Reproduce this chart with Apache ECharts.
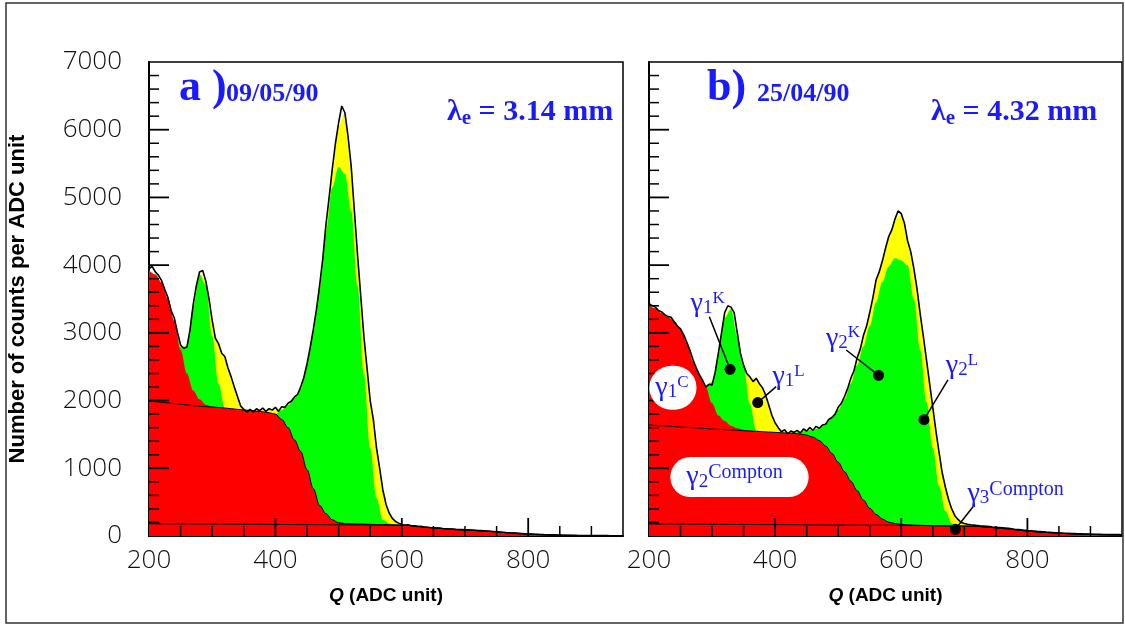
<!DOCTYPE html>
<html><head><meta charset="utf-8">
<script src="https://cdn.jsdelivr.net/npm/echarts@6/dist/echarts.min.js"></script>
<style>html,body{margin:0;padding:0;background:#fff}#c{width:1125px;height:625px}</style>
</head><body><div id="c"></div>
<script>
// ---------- axis / tick values ----------
const Q_START = 200;          // first bin (ADC units)
const FIT_STEP = 10;          // sampling of fitted components
const DATA_STEP = 5;          // sampling of measured histogram
const xTickLabels = [200, 400, 600, 800];
const yTickLabels = [0, 1000, 2000, 3000, 4000, 5000, 6000, 7000];

// ---------- panel a) 09/05/90 ----------
// top of yellow (total fit = Compton + K + L)
const aTotalFit = [
 3920,3860,3740,3500,3180,2800,2810,3400,3870,3780,
 3200,2850,2660,2330,2050,1880,1850,1850,1860,1860,
 1860,1880,1940,2040,2180,2550,3050,3700,4600,5400,
 6050,6250,5450,4150,2950,2000,1300,680,340,220,
 170,160,150,140,130,122,115,108,102,96,
 92,88,82,76,70,62,55,48,42,36,
 30,26,22,19,16,13,11,9,8,7,
 6,5,5,4,4,3];
// top of green (Compton + K lines)
const aGreenTop = [
 3920,3860,3740,3500,3180,2790,2800,3390,3860,3700,
 2950,2250,1895,1880,1870,1860,1855,1845,1835,1820,
 1800,1860,1930,2030,2170,2530,3020,3650,4500,5150,
 5450,5350,4800,3700,2400,1300,560,240,185,170,
 160,155,148,138,128,120,113,106,100,94,
 90,86,80,74,68,60,53,46,40,34,
 28,24,20,17,14,12,10,8,7,6,
 5,4,4,3,3,2];
// top of red (sum of Compton components)
const aComptonTop = [
 3920,3860,3740,3500,3180,2750,2400,2150,2020,1940,
 1910,1900,1890,1880,1870,1860,1855,1845,1835,1820,
 1800,1720,1600,1420,1250,980,700,450,330,240,
 195,185,180,178,175,172,170,168,165,163,
 160,155,148,138,128,120,113,106,100,94,
 90,86,80,74,68,60,53,46,40,34,
 28,24,20,17,14,12,10,8,7,6,
 5,4,4,3,3,2];
// gamma2 + gamma3 Compton curve
const aCompton23 = [
 1995,1985,1975,1965,1955,1945,1935,1925,1915,1910,
 1905,1898,1890,1880,1870,1860,1855,1845,1835,1820,
 1800,1720,1600,1420,1250,980,700,450,330,240,
 195,185,180,178,175,172,170,168,165,163,
 160,155,148,138,128,120,113,106,100,94,
 90,86,80,74,68,60,53,46,40,34,
 28,24,20,17,14,12,10,8,7,6,
 5,4,4,3,3,2];
// gamma3 Compton curve
const aCompton3 = [
 180,180,179,179,178,178,177,177,176,176,
 175,175,174,174,173,173,172,172,171,171,
 170,170,169,169,168,168,167,167,166,166,
 165,165,164,164,163,163,162,162,161,161,
 160,155,148,138,128,120,113,106,100,94,
 90,86,80,74,68,60,53,46,40,34,
 28,24,20,17,14,12,10,8,7,6,
 5,4,4,3,3,2];
// measured counts (5 ADC unit steps)
const aCounts = [
 3950,3980,3900,3850,3770,3640,3520,3330,3220,3010,
 2820,2770,2790,3050,3420,3700,3900,3920,3760,3500,
 3180,2920,2840,2700,2650,2480,2350,2200,2060,1920,
 1870,1830,1870,1830,1880,1850,1890,1840,1880,1860,
 1900,1840,1910,1900,1960,1990,2050,2090,2200,2340,
 2540,2780,3050,3350,3700,4100,4600,5000,5420,5800,
 6100,6350,6250,5900,5450,4800,4150,3550,2950,2480,
 2000,1720,1300,1000,680,470,340,260,215,190,
 170,160,165,150,150,140,142,132,130,125,
 122,118,116,110,108,104,102,98,96,94,
 92,90,88,85,82,79,76,73,70,66,
 62,58,55,51,48,45,42,39,36,33,
 30,28,26,24,22,20,19,17,16,14,
 13,12,11,10,9,9,8,8,7,7,
 6,6,5,5,5,5,4,4,4,3,
 3];

// ---------- panel b) 25/04/90 ----------
const bTotalFit = [
 3420,3370,3300,3240,3180,3060,2860,2600,2380,2230,
 2280,2700,3250,3380,3000,2550,2330,2320,2200,1920,
 1680,1560,1540,1540,1550,1560,1570,1600,1660,1760,
 1890,2060,2320,2630,2950,3290,3780,4060,4400,4680,
 4740,4380,3950,3300,2600,1900,1240,710,410,250,
 185,165,155,146,138,130,122,112,100,90,
 80,72,65,58,52,46,41,37,33,30,
 27,25,23,21,20,19];
const bGreenTop = [
 3400,3360,3290,3230,3170,3050,2850,2580,2370,2210,
 2270,2680,3220,3350,2950,2500,1950,1560,1540,1535,
 1530,1525,1520,1525,1540,1555,1565,1590,1650,1740,
 1860,2020,2250,2520,2800,3100,3450,3750,3980,4100,
 4070,4000,3500,2750,1980,1300,740,370,190,150,
 148,146,143,136,130,122,115,105,94,84,
 75,67,60,54,48,43,38,34,30,27,
 25,23,21,19,18,17];
const bComptonTop = [
 3400,3360,3290,3230,3170,3050,2850,2580,2370,2200,
 1960,1780,1700,1630,1590,1570,1555,1545,1540,1535,
 1530,1525,1520,1515,1505,1490,1460,1410,1330,1220,
 1090,950,810,670,530,410,320,250,205,185,
 170,165,160,157,155,153,151,150,149,148,
 147,145,142,135,128,120,113,103,92,82,
 73,65,58,52,46,41,36,32,29,26,
 24,22,20,18,17,16];
const bCompton23 = [
 1640,1634,1628,1622,1616,1610,1604,1598,1592,1586,
 1580,1575,1570,1565,1560,1555,1550,1545,1540,1535,
 1530,1525,1520,1515,1505,1490,1460,1410,1330,1220,
 1090,950,810,670,530,410,320,250,205,185,
 170,165,160,157,155,153,151,150,149,148,
 147,145,142,135,128,120,113,103,92,82,
 73,65,58,52,46,41,36,32,29,26,
 24,22,20,18,17,16];
const bCompton3 = [
 177,177,176,176,175,175,174,174,173,173,
 172,172,171,171,170,170,169,169,168,168,
 168,167,167,166,166,165,165,164,164,163,
 163,162,162,161,161,160,160,159,159,158,
 158,157,156,155,154,153,151,150,149,148,
 147,145,142,135,128,120,113,103,92,82,
 73,65,58,52,46,41,36,32,29,26,
 24,22,20,18,17,16];
const bCounts = [
 3430,3400,3380,3330,3310,3270,3240,3230,3160,3100,
 3060,2970,2860,2740,2600,2480,2380,2300,2200,2240,
 2230,2420,2700,3000,3300,3400,3380,3300,3000,2700,
 2520,2400,2350,2280,2330,2250,2190,2080,1930,1780,
 1670,1600,1540,1570,1510,1550,1530,1560,1520,1580,
 1550,1600,1560,1620,1590,1640,1650,1720,1750,1800,
 1900,1960,2060,2180,2330,2440,2630,2760,2960,3100,
 3300,3520,3780,3900,4060,4250,4420,4520,4680,4800,
 4760,4620,4360,4200,3950,3650,3280,2950,2600,2250,
 1900,1550,1230,930,720,540,400,300,245,200,
 185,172,165,160,155,150,146,142,138,133,
 130,126,122,118,112,106,100,95,90,85,
 80,76,72,68,65,62,58,55,52,49,
 46,44,41,39,37,35,33,32,30,29,
 27,26,25,24,23,22,21,21,20,20,
 19];

// ---------- panel b annotations (data coordinates) ----------
const bDots = [[328.5,2462],[372.4,1970],[564,2373],[636,1718],[685.7,99]];
const bLeaderStarts = [[295.7,3239],[401.6,2206],[512.7,2747],[674,2304],[716,458]];
const bLabelTexts = ['{g|γ}{s|1}{p|K}','{g|γ}{s|1}{p|L}','{g|γ}{s|2}{p|K}','{g|γ}{s|2}{p|L}','{g|γ}{s|3}{c|Compton}'];
const bLabelAt = [[266,3427],[395.8,2353],[480.5,2920],[670.7,2511],[705,630]];
const bPillTexts = ['{g|γ}{s|1}{p|C}','{g|γ}{s|2}{c|Compton}'];
const bPillAt = [[200.5,2190],[233.8,870]];

// ---------- build ----------
const BLUE = '#1a1aff';
const TICKFONT = "'Open Sans', Lato, Roboto, sans-serif";
const X_MIN = 200, X_MAX = 950, X_MAJOR = 200, X_MINOR = 50;
const Y_MIN = 0, Y_MAX = 7000, Y_MAJOR = 1000, Y_MINOR = 200;
function pairs(arr, step){ return arr.map((v,i)=>[Q_START + i*step, v]); }

// tick positions derived from the axis intervals
const xTickVals = [], yTickVals = [];
for (let v = X_MIN + X_MINOR; v < X_MAX; v += X_MINOR) xTickVals.push(v);
for (let v = Y_MIN + Y_MINOR; v < Y_MAX; v += Y_MINOR) yTickVals.push(v);

const chart = echarts.init(document.getElementById('c'), null, {renderer:'canvas'});

const grids = [
  {left:149, top:62, width:474, height:474},
  {left:649, top:62, width:473, height:474}
];

function xAxis(gi){
  return {gridIndex:gi, type:'value', min:X_MIN, max:X_MAX, interval:X_MAJOR, position:'bottom',
     axisLine:{show:true, onZero:false, lineStyle:{color:'#000', width:2}},
     axisTick:{show:false},
     axisLabel:{show:true, showMaxLabel:false, margin:12, fontSize:26, fontWeight:300, color:'#111', fontFamily:TICKFONT,
       formatter:v=> xTickLabels.includes(v) ? String(v) : ''},
     splitLine:{show:false},
     name:'{q|Q} (ADC unit)', nameLocation:'middle', nameGap:50,
     nameTextStyle:{fontFamily:'Liberation Sans, Arial', fontWeight:'bold', fontSize:19, color:'#000',
       rich:{q:{fontFamily:'Liberation Sans, Arial', fontWeight:'bold', fontStyle:'italic', fontSize:19, color:'#000'}}}};
}
function yAxis(gi, withLabels){
  return {gridIndex:gi, type:'value', min:Y_MIN, max:Y_MAX, interval:Y_MAJOR,
    axisLine:{show:true, onZero:false, lineStyle:{color:'#000', width:2}},
    axisTick:{show:false},
    splitLine:{show:false},
    axisLabel:{show:withLabels, margin:27, fontSize:26, fontWeight:300, color:'#111', fontFamily:TICKFONT,
      formatter:v=> yTickLabels.includes(v) ? String(v) : ''},
    name: withLabels ? 'Number of counts per ADC unit' : '',
    nameLocation:'middle', nameGap:120,
    nameTextStyle:{fontFamily:'Liberation Sans, Arial', fontWeight:'bold', fontSize:22, color:'#000'}
  };
}

function tickRenderer(params, api){
  const children = [];
  xTickVals.forEach(v=>{
    const pt = api.coord([v, Y_MIN]);
    const major = (v - X_MIN) % X_MAJOR === 0;
    children.push({type:'line', shape:{x1:pt[0], y1:pt[1], x2:pt[0], y2:pt[1] - (major ? 18 : 10)},
      style:{stroke:'#000', lineWidth: major ? 1.8 : 1.5}});
  });
  yTickVals.forEach(v=>{
    const pt = api.coord([X_MIN, v]);
    const major = (v - Y_MIN) % Y_MAJOR === 0;
    children.push({type:'line', shape:{x1:pt[0], y1:pt[1], x2:pt[0] + (major ? 20 : 10), y2:pt[1]},
      style:{stroke:'#000', lineWidth: major ? 1.8 : 1.5}});
  });
  return {type:'group', children:children};
}

function panelSeries(p, total, green, red, c23, c3, counts){
  const xi = p, yi = p;
  const area = (data, color, z) => ({type:'line', xAxisIndex:xi, yAxisIndex:yi, data:pairs(data, FIT_STEP),
    smooth:0.35, smoothMonotone:'x', symbol:'none', silent:true, z:z,
    lineStyle:{opacity:0, width:0}, areaStyle:{color:color, opacity:1}});
  const curve = (data, z) => ({type:'line', xAxisIndex:xi, yAxisIndex:yi, data:pairs(data, FIT_STEP),
    smooth:0.35, smoothMonotone:'x', symbol:'none', silent:true, z:z,
    lineStyle:{color:'#000', width:1}});
  return [
    area(total, '#ffff00', 2),
    area(green, '#00ff00', 3),
    area(red, '#ff0000', 4),
    curve(c23, 5),
    curve(c3, 5),
    {type:'line', xAxisIndex:xi, yAxisIndex:yi, data:pairs(counts, DATA_STEP), symbol:'none', silent:true, z:6,
     lineStyle:{color:'#000', width:1.6}},
    // tick marks drawn on top of the filled areas, through the axis scales
    {type:'custom', xAxisIndex:xi, yAxisIndex:yi, data:[[X_MIN + 1, Y_MIN + 1]], silent:true, clip:false, z:20,
     renderItem:tickRenderer}
  ];
}

const SERIF = 'Liberation Serif, Times New Roman, serif';
const gRich = {
  g:{fontFamily:SERIF, fontSize:28, color:BLUE, lineHeight:28, verticalAlign:'middle'},
  s:{fontFamily:SERIF, fontSize:19, color:BLUE, lineHeight:19, verticalAlign:'bottom'},
  p:{fontFamily:SERIF, fontSize:17, color:BLUE, lineHeight:17, verticalAlign:'top'},
  c:{fontFamily:SERIF, fontSize:20, color:BLUE, lineHeight:20, verticalAlign:'top'}
};

const series = [
  ...panelSeries(0, aTotalFit, aGreenTop, aComptonTop, aCompton23, aCompton3, aCounts),
  ...panelSeries(1, bTotalFit, bGreenTop, bComptonTop, bCompton23, bCompton3, bCounts),
  {type:'scatter', xAxisIndex:1, yAxisIndex:1, data:bDots, symbol:'circle', symbolSize:11, silent:true, z:25,
   itemStyle:{color:'#000', opacity:1},
   markLine:{silent:true, symbol:['none','none'], animation:false, label:{show:false},
     lineStyle:{color:'#000', width:1.5, type:'solid'},
     data: bLeaderStarts.map((s,i)=>[{coord:s},{coord:bDots[i]}])}},
  {type:'scatter', xAxisIndex:1, yAxisIndex:1, symbolSize:0, silent:true, z:26,
   itemStyle:{opacity:1},
   data: bLabelAt.map((at,i)=>({value:at, label:{formatter:bLabelTexts[i]}})),
   label:{show:true, position:'right', distance:0, rich:gRich}},
  {type:'scatter', xAxisIndex:1, yAxisIndex:1, symbolSize:0, silent:true, z:24,
   itemStyle:{opacity:1},
   data: bPillAt.map((at,i)=>({value:at, label:{formatter:bPillTexts[i],
     padding: i===0 ? [8,8,8,6] : [6,26,6,16]}})),
   label:{show:true, position:'right', distance:0, rich:gRich, backgroundColor:'#ffffff', opacity:1,
     borderRadius:22}}
];

const graphic = [
  {type:'rect', shape:{x:6, y:3, width:1117, height:620}, style:{fill:'none', stroke:'#333', lineWidth:1.5}, z:100},
  {type:'text', x:179, y:89, style:{text:'a )', font:'bold 44px '+SERIF, fill:BLUE, verticalAlign:'middle'}},
  {type:'text', x:226, y:94, style:{text:'09/05/90', font:'bold 26px '+SERIF, fill:BLUE, verticalAlign:'middle'}},
  {type:'text', x:707, y:89, style:{text:'b)', font:'bold 44px '+SERIF, fill:BLUE, verticalAlign:'middle'}},
  {type:'text', x:757, y:94, style:{text:'25/04/90', font:'bold 26px '+SERIF, fill:BLUE, verticalAlign:'middle'}},
  {type:'text', x:447, y:112, style:{text:'{m|λ}{e|e}{m| = 3.14 mm}', verticalAlign:'middle',
    rich:{m:{font:'bold 30px '+SERIF, fill:BLUE, lineHeight:34, verticalAlign:'middle'},
          e:{font:'bold 21px '+SERIF, fill:BLUE, lineHeight:21, verticalAlign:'bottom'}}}},
  {type:'text', x:931, y:112, style:{text:'{m|λ}{e|e}{m| = 4.32 mm}', verticalAlign:'middle',
    rich:{m:{font:'bold 30px '+SERIF, fill:BLUE, lineHeight:34, verticalAlign:'middle'},
          e:{font:'bold 21px '+SERIF, fill:BLUE, lineHeight:21, verticalAlign:'bottom'}}}}
];

chart.setOption({
  animation:false,
  backgroundColor:'#fff',
  grid: grids.map(g=>Object.assign({show:true, borderColor:'#000', borderWidth:1.5, backgroundColor:'transparent'}, g)),
  xAxis:[xAxis(0), xAxis(1)],
  yAxis:[yAxis(0,true), yAxis(1,false)],
  series:series,
  graphic:graphic
});
</script>
</body></html>
